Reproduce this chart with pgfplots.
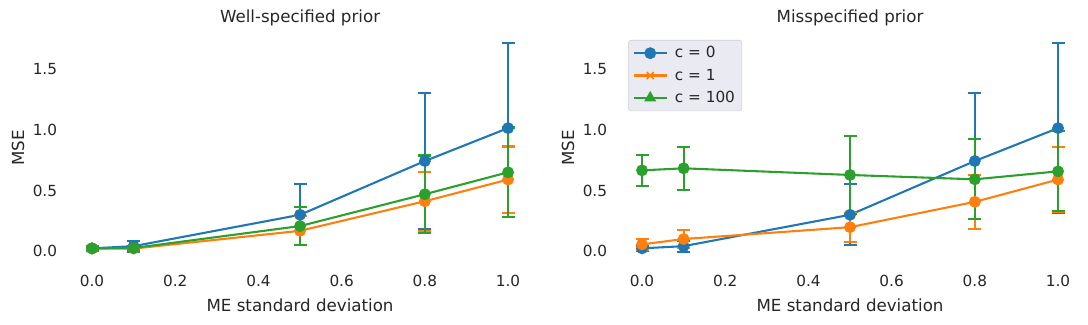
\documentclass[border=0pt]{standalone}
\usepackage{fontspec}
\setmainfont{DejaVu Sans}
\usepackage{pgfplots}
\usepackage{pgfplotstable}
\pgfplotsset{compat=1.18}

\definecolor{c0}{HTML}{1F77B4}
\definecolor{c1}{HTML}{FF7F0E}
\definecolor{c2}{HTML}{2CA02C}
\definecolor{txt}{HTML}{262626}
\definecolor{legfill}{HTML}{EAEAF2}

% x = ME standard deviation, y = MSE, e = error bar half-length
\pgfplotstableread{
x    y     e
0.0  0.022 0.020
0.1  0.040 0.045
0.5  0.299 0.252
0.8  0.743 0.565
1.0  1.015 0.700
}\cnought

\pgfplotstableread{
x    y     e
0.0  0.020 0.015
0.1  0.020 0.015
0.5  0.167 0.120
0.8  0.411 0.245
1.0  0.590 0.273
}\cone

\pgfplotstableread{
x    y     e
0.0  0.022 0.018
0.1  0.025 0.020
0.5  0.206 0.155
0.8  0.469 0.320
1.0  0.650 0.370
}\chundred

\pgfplotstableread{
x    y     e
0.0  0.055 0.045
0.1  0.099 0.075
0.5  0.197 0.120
0.8  0.406 0.225
1.0  0.590 0.270
}\conemis

\pgfplotstableread{
x    y     e
0.0  0.666 0.127
0.1  0.683 0.177
0.5  0.628 0.320
0.8  0.592 0.330
1.0  0.658 0.330
}\chundredmis

\pgfplotsset{
  mepanel/.style={
    scale only axis,
    width=329.5pt, height=165.3pt,
    xmin=-0.05, xmax=1.05,
    ymin=-0.096, ymax=1.8,
    clip=false,
    axis line style={draw=none},
    tick style={draw=none},
    xtick={0,0.2,0.4,0.6,0.8,1.0},
    ytick={0,0.5,1.0,1.5},
    /pgf/number format/assume math mode=true,
    /pgf/number format/fixed,
    /pgf/number format/fixed zerofill,
    /pgf/number format/precision=1,
    ticklabel style={font=\fontsize{11}{13}\selectfont, text=txt},
    xticklabel style={anchor=north, inner sep=0pt, yshift=-9pt},
    yticklabel style={anchor=east, inner sep=0pt, xshift=-10pt},
    every axis x label/.style={at={(axis description cs:0.5,-0.185)}, anchor=center,
      font=\fontsize{12}{14}\selectfont, text=txt},
    every axis y label/.style={at={(axis description cs:-0.116,0.5)}, rotate=90, anchor=center,
      font=\fontsize{12}{14}\selectfont, text=txt},
    every axis title/.style={at={(axis description cs:0.5,1.065)}, anchor=center,
      font=\fontsize{12}{14}\selectfont, text=txt},
    xlabel={ME standard deviation},
    ylabel={MSE},
  },
  eb/.style={#1, line width=1.5pt, mark=*, mark size=3.5pt, mark options={solid, fill=#1, draw=#1},
    error bars/.cd, y dir=both, y explicit,
    error bar style={#1, line width=1.5pt},
    error mark options={#1, rotate=90, line width=1.5pt, mark size=4.7pt}},
}

\begin{document}
\begin{tikzpicture}
  \path[use as bounding box] (-51.3pt,-44.9pt) rectangle (732.1pt,189.1pt);

  \begin{axis}[mepanel, at={(0pt,0pt)}, anchor=south west,
    title={Well-specified prior}]
    \addplot[eb=c0] table[x=x, y=y, y error=e] {\cnought};
    \addplot[eb=c1] table[x=x, y=y, y error=e] {\cone};
    \addplot[eb=c2] table[x=x, y=y, y error=e] {\chundred};
  \end{axis}

  \begin{axis}[mepanel, at={(396pt,0pt)}, anchor=south west,
    title={Misspecified prior},
    legend style={at={(0.015,0.97)}, anchor=north west,
      fill=legfill, draw=black!18, rounded corners=2pt,
      font=\fontsize{11}{13}\selectfont, text=txt,
      row sep=2.5pt, column sep=3pt, inner xsep=3pt, inner ysep=2.5pt},
    legend cell align=left,
    legend image code/.code={
      \draw[mark repeat=2, mark phase=2] plot coordinates {(0pt,0pt) (12pt,0pt) (24pt,0pt)};
    }]
    \addplot[forget plot, eb=c0] table[x=x, y=y, y error=e] {\cnought};
    \addplot[forget plot, eb=c1] table[x=x, y=y, y error=e] {\conemis};
    \addplot[forget plot, eb=c2] table[x=x, y=y, y error=e] {\chundredmis};
    \addlegendimage{c0, line width=1.5pt, mark=*, mark size=3.5pt}
    \addlegendentry{c = 0}
    \addlegendimage{c1, line width=1.5pt, mark=x, mark size=3.5pt, mark options={line width=1.2pt}}
    \addlegendentry{c = 1}
    \addlegendimage{c2, line width=1.5pt, mark=triangle*, mark size=3.5pt}
    \addlegendentry{c = 100}
  \end{axis}
\end{tikzpicture}
\end{document}
